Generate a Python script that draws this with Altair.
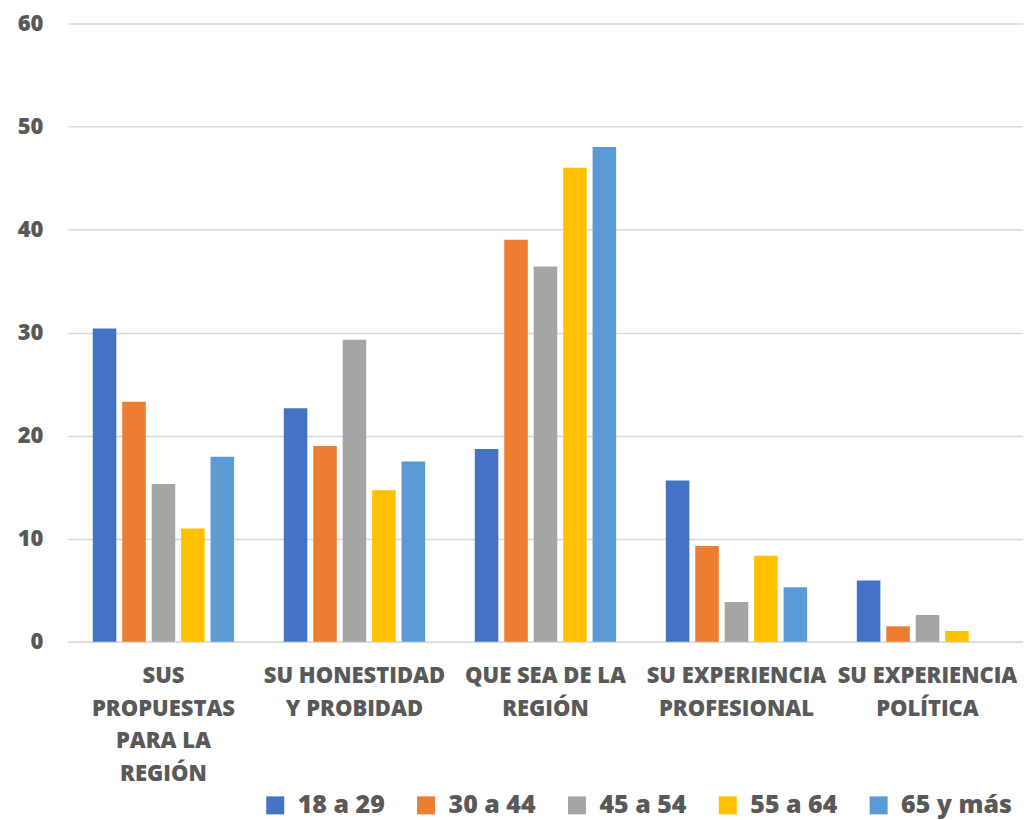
import altair as alt
import pandas as pd

categories = [
    "SUS|PROPUESTAS|PARA  LA|REGIÓN",
    "SU HONESTIDAD|Y PROBIDAD",
    "QUE SEA DE LA|REGIÓN",
    "SU EXPERIENCIA|PROFESIONAL",
    "SU EXPERIENCIA|POLÍTICA",
]
series = ["18 a 29", "30 a 44", "45 a 54", "55 a 64", "65 y más"]
v_18_29 = [30.4, 22.65, 18.7, 15.65, 5.95]
v_30_44 = [23.3, 19.0, 39.0, 9.3, 1.5]
v_45_54 = [15.3, 29.3, 36.4, 3.85, 2.6]
v_55_64 = [11.0, 14.7, 46.0, 8.35, 1.05]
v_65_mas = [17.95, 17.5, 48.0, 5.3, 0.0]
colors = ["#4472C4", "#ED7D31", "#A5A5A5", "#FFC000", "#5B9BD5"]

rows = []
for s, vals in zip(series, [v_18_29, v_30_44, v_45_54, v_55_64, v_65_mas]):
    for c, v in zip(categories, vals):
        rows.append({"cat": c, "serie": s, "valor": v})
df = pd.DataFrame(rows)

FONT = "Open Sans"
TXT = "#595959"
W = 800

chart = alt.Chart(df).mark_bar().encode(
    x=alt.X("cat:N", sort=categories, title=None,
            scale=alt.Scale(paddingInner=0.26, paddingOuter=0.13),
            axis=alt.Axis(labelExpr="split(datum.label, '|')", labelAngle=0,
                          labelFont=FONT, labelFontSize=22, labelFontWeight=W,
                          labelColor=TXT, labelLineHeight=32.5, labelPadding=24,
                          labelLimit=400, ticks=False, domainColor="#d9d9d9",
                          domainWidth=1.5, labelBaseline="top")),
    xOffset=alt.XOffset("serie:N", sort=series,
                        scale=alt.Scale(paddingInner=0.2, paddingOuter=0.0)),
    y=alt.Y("valor:Q", title=None,
            scale=alt.Scale(domain=[0, 60], nice=False),
            axis=alt.Axis(values=[0, 10, 20, 30, 40, 50, 60], domain=False, ticks=False,
                          labelFont=FONT, labelFontSize=22, labelFontWeight=W,
                          labelColor=TXT, labelPadding=25, gridColor="#d9d9d9",
                          gridWidth=1.5)),
    color=alt.Color("serie:N", sort=series, title=None,
                    scale=alt.Scale(domain=series, range=colors),
                    legend=alt.Legend(orient="none", legendX=195, legendY=770,
                                      direction="horizontal", columns=5,
                                      symbolType="square", symbolSize=324,
                                      symbolStrokeWidth=0, symbolOffset=0,
                                      labelFont=FONT, labelFontSize=25,
                                      labelFontWeight=W, labelColor=TXT,
                                      labelOffset=10, columnPadding=28,
                                      labelLimit=300)),
).properties(
    width=956, height=619,
    padding={"left": 9, "top": 4, "right": 0, "bottom": 0},
).configure_view(stroke=None)

chart.save("out.html", embed_options={"renderer": "svg", "actions": False})
